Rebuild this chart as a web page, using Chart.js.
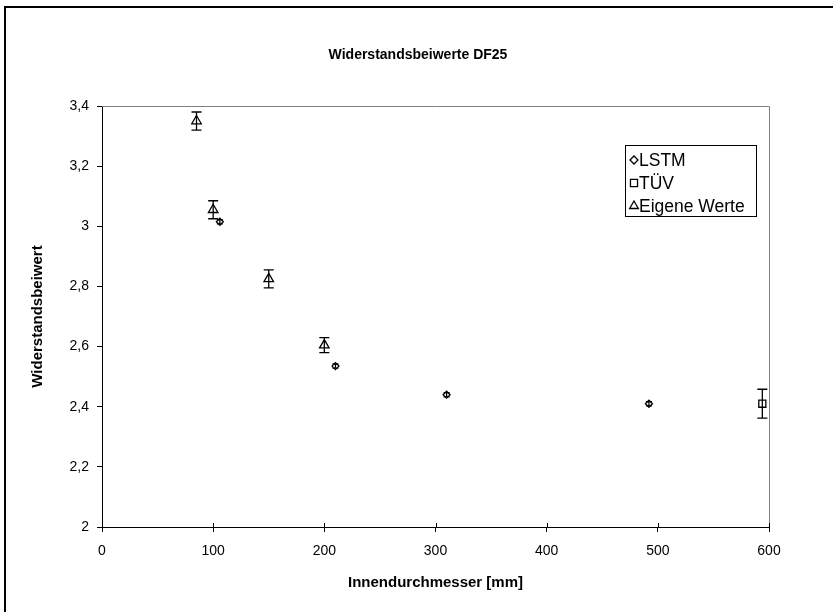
<!DOCTYPE html>
<html>
<head>
<meta charset="utf-8">
<script src="https://cdn.jsdelivr.net/npm/chart.js@4/dist/chart.umd.min.js"></script>
<style>
html, body { margin: 0; padding: 0; background: #fff; }
#wrap { width: 833px; height: 612px; position: relative; }
</style>
</head>
<body>
<div id="wrap"><canvas id="chart" width="833" height="612"></canvas></div>
<script>
var chartTitle = "Widerstandsbeiwerte DF25";
var xTitle = "Innendurchmesser [mm]";
var yTitle = "Widerstandsbeiwert";

var lstmX = [106, 210, 310, 492];
var lstmY = [3.015, 2.535, 2.44, 2.41];
var lstmErr = [0.007, 0.007, 0.007, 0.007];

var tuevX = [594];
var tuevY = [2.41];
var tuevErr = [0.048];

var eigeneX = [85, 100, 150, 200];
var eigeneY = [3.35, 3.055, 2.825, 2.605];
var eigeneErr = [0.03, 0.03, 0.03, 0.025];

var xMin = 0, xMax = 600, xStep = 100;
var yMin = 2, yMax = 3.4, yStep = 0.2;

var FONT = "'Liberation Sans', Arial, sans-serif";

function toPoints(xs, ys) {
    var pts = [];
    for (var i = 0; i < xs.length; i++) {
        pts.push({ x: xs[i], y: ys[i] });
    }
    return pts;
}

function germanNumber(v) {
    var r = Math.round(v * 10) / 10;
    return r.toString().replace(".", ",");
}

var frameAndTitle = {
    id: "frameAndTitle",
    beforeDraw: function(chart) {
        var ctx = chart.ctx;
        ctx.save();
        ctx.strokeStyle = "#000";
        ctx.lineWidth = 2;
        ctx.beginPath();
        ctx.moveTo(5, 612);
        ctx.lineTo(5, 7);
        ctx.lineTo(833, 7);
        ctx.stroke();
        ctx.restore();
    },
    afterDraw: function(chart) {
        var ctx = chart.ctx;
        var area = chart.chartArea;
        ctx.save();
        // top and right edge of the plot area
        ctx.strokeStyle = "#808080";
        ctx.lineWidth = 1;
        ctx.beginPath();
        ctx.moveTo(area.left, area.top + 0.5);
        ctx.lineTo(area.right + 0.5, area.top + 0.5);
        ctx.lineTo(area.right + 0.5, area.bottom);
        ctx.stroke();

        // inner halves of the x tick marks
        var xs = chart.scales.x;
        ctx.strokeStyle = "#000";
        ctx.beginPath();
        for (var v = xMin; v <= xMax; v += xStep) {
            var px = Math.round(xs.getPixelForValue(v)) + 0.5;
            ctx.moveTo(px, area.bottom);
            ctx.lineTo(px, area.bottom - 4);
        }
        ctx.stroke();

        ctx.fillStyle = "#000";
        ctx.font = "bold 14px " + FONT;
        ctx.textAlign = "center";
        ctx.textBaseline = "middle";
        ctx.fillText(chartTitle, 418, 55);
        ctx.restore();
    }
};

var errorBars = {
    id: "errorBars",
    afterDatasetsDraw: function(chart) {
        var ctx = chart.ctx;
        var xs = chart.scales.x, ys = chart.scales.y;
        ctx.save();
        ctx.strokeStyle = "#000";
        ctx.lineWidth = 1.3;
        chart.data.datasets.forEach(function(ds) {
            if (!ds.errors) return;
            for (var i = 0; i < ds.data.length; i++) {
                var p = ds.data[i];
                var e = ds.errors[i];
                var px = xs.getPixelForValue(p.x);
                var top = ys.getPixelForValue(p.y + e);
                var bot = ys.getPixelForValue(p.y - e);
                var half = ds.capHalf;
                ctx.beginPath();
                ctx.moveTo(px, top);
                ctx.lineTo(px, bot);
                ctx.moveTo(px - half, top);
                ctx.lineTo(px + half, top);
                ctx.moveTo(px - half, bot);
                ctx.lineTo(px + half, bot);
                ctx.stroke();
            }
        });
        ctx.restore();
    }
};

var boxLegend = {
    id: "boxLegend",
    afterDraw: function(chart) {
        var ctx = chart.ctx;
        var left = 625, top = 145, width = 131, height = 71;
        ctx.save();
        ctx.fillStyle = "#fff";
        ctx.fillRect(left, top, width, height);
        ctx.strokeStyle = "#000";
        ctx.lineWidth = 1;
        ctx.strokeRect(left + 0.5, top + 0.5, width, height);
        ctx.font = "17.5px " + FONT;
        ctx.textBaseline = "middle";
        ctx.textAlign = "left";
        chart.data.datasets.forEach(function(ds, i) {
            var y = top + 15 + i * 23;
            ctx.fillStyle = "#fff";
            ctx.strokeStyle = "#000";
            ctx.lineWidth = 1.3;
            Chart.helpers.drawPoint(ctx, {
                pointStyle: ds.pointStyle,
                radius: ds.legendRadius,
                rotation: 0,
                borderWidth: 1.3
            }, left + 9, y);
            ctx.fillStyle = "#000";
            ctx.fillText(ds.label, left + 14, y + 1);
        });
        ctx.restore();
    }
};

var ctx = document.getElementById("chart");
new Chart(ctx, {
    type: "scatter",
    data: {
        datasets: [{
            label: "LSTM",
            data: toPoints(lstmX, lstmY),
            errors: lstmErr,
            capHalf: 3,
            pointStyle: "rectRot",
            pointRadius: 3.5,
            legendRadius: 4,
            backgroundColor: "#fff",
            borderColor: "#000",
            borderWidth: 1.3
        }, {
            label: "TÜV",
            data: toPoints(tuevX, tuevY),
            errors: tuevErr,
            capHalf: 5,
            pointStyle: "rect",
            pointRadius: 5,
            legendRadius: 5,
            backgroundColor: "#fff",
            borderColor: "#000",
            borderWidth: 1.3
        }, {
            label: "Eigene Werte",
            data: toPoints(eigeneX, eigeneY),
            errors: eigeneErr,
            capHalf: 5,
            pointStyle: "triangle",
            pointRadius: 5.5,
            legendRadius: 5,
            backgroundColor: "#fff",
            borderColor: "#000",
            borderWidth: 1.3
        }]
    },
    options: {
        responsive: false,
        animation: false,
        layout: { padding: { left: 0, top: 106, right: 833 - 769, bottom: 0 } },
        plugins: {
            legend: { display: false },
            title: { display: false },
            tooltip: { enabled: false }
        },
        scales: {
            x: {
                type: "linear",
                min: xMin,
                max: xMax,
                ticks: {
                    stepSize: xStep,
                    color: "#000",
                    padding: 11,
                    maxRotation: 0,
                    font: { family: FONT, size: 14 }
                },
                grid: { drawOnChartArea: false, tickLength: 5, color: "#000", tickColor: "#000" },
                border: { color: "#000", width: 1 },
                title: {
                    display: true,
                    text: xTitle,
                    color: "#000",
                    padding: { top: 0, bottom: 20 },
                    font: { family: FONT, size: 15, weight: "bold" }
                },
                afterFit: function(scale) { scale.height = 612 - 527; }
            },
            y: {
                type: "linear",
                min: yMin,
                max: yMax,
                ticks: {
                    stepSize: yStep,
                    color: "#000",
                    padding: 8,
                    callback: function(v) { return germanNumber(v); },
                    font: { family: FONT, size: 14 }
                },
                grid: { drawOnChartArea: false, tickLength: 5, color: "#000", tickColor: "#000" },
                border: { color: "#000", width: 1 },
                title: {
                    display: true,
                    text: yTitle,
                    color: "#000",
                    padding: { top: 29, bottom: 0 },
                    font: { family: FONT, size: 15, weight: "bold" }
                },
                afterFit: function(scale) { scale.width = 102; }
            }
        }
    },
    plugins: [frameAndTitle, errorBars, boxLegend]
});
</script>
</body>
</html>
